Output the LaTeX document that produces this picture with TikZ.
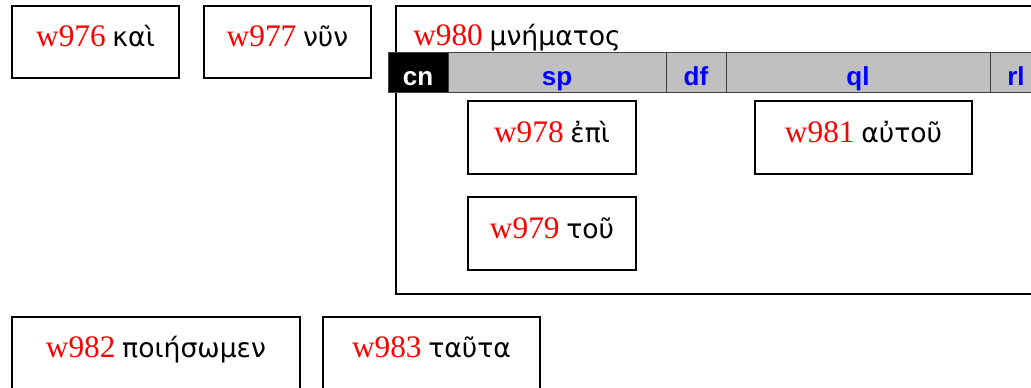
\documentclass[tikz,border=0pt]{standalone}
\usepackage{fontspec}
\usepackage{tikz}
\usetikzlibrary{positioning}
\newfontfamily\wfont{Liberation Serif}
\newfontfamily\grkfont{DejaVu Sans}
\newfontfamily\barfont{Liberation Sans}
\definecolor{silver}{RGB}{192,192,192}
\newcommand{\wid}[1]{{\color{red}\wfont\fontsize{23.5}{28}\selectfont #1}}
\newcommand{\grk}[1]{{\grkfont\fontsize{20}{24}\selectfont #1}}
\tikzstyle{wbox} = [rectangle, draw=black, line width=1.5pt, inner sep=0pt, anchor=north west, text height=30pt, text depth=24pt, text centered]
\tikzstyle{cell} = [rectangle, draw=black!75, line width=0.75pt, fill=silver, inner sep=0pt, outer sep=0pt, text height=24.75pt, text depth=5.25pt, text centered, text=blue, font=\barfont\bfseries\fontsize{19.5}{22}\selectfont]

\begin{document}
\begin{tikzpicture}[x=0.75pt, y=-0.75pt]
        \useasboundingbox (0,0) rectangle (1031,387);
        \node (w976) [wbox, minimum width=125.25pt] at (11,5) {\wid{w976}\, \grk{καὶ}};
        \node (w977) [wbox, minimum width=125.25pt] at (203,5) {\wid{w977}\, \grk{νῦν}};
        
        % the box of w980 with its slots
        \node (w980) [wbox, minimum width=487.5pt, minimum height=216pt] at (395,5) {};
        \node (w980lbl) [anchor=base west, inner sep=0pt] at (413,45) {\wid{w980}\, \grk{μνήματος}};
        \node (cn) [cell, fill=black, text=white, minimum width=45pt, anchor=north west] at (388,52) {cn};
        \node (sp) [cell, minimum width=163.5pt, right=0pt of cn] {sp};
        \node (df) [cell, minimum width=45pt, right=0pt of sp] {df};
        \node (ql) [cell, minimum width=198pt, right=0pt of df] {ql};
        \node (rl) [cell, minimum width=39pt, right=0pt of ql] {rl};
        
        \node (w978) [wbox, minimum width=126pt, text height=30.75pt] at (467,100) {\wid{w978}\, \grk{ἐπὶ}};
        \node (w981) [wbox, minimum width=162.75pt, text height=30.75pt] at (754,100) {\wid{w981}\, \grk{αὐτοῦ}};
        \node (w979) [wbox, minimum width=126pt, text height=30.75pt] at (467,196) {\wid{w979}\, \grk{τοῦ}};
        
        \node (w982) [wbox, minimum width=216pt, text depth=28pt] at (11,316) {\wid{w982}\, \grk{ποιήσωμεν}};
        \node (w983) [wbox, minimum width=162.75pt, text depth=28pt] at (322,316) {\wid{w983}\, \grk{ταῦτα}};
    \end{tikzpicture}
\end{document}
